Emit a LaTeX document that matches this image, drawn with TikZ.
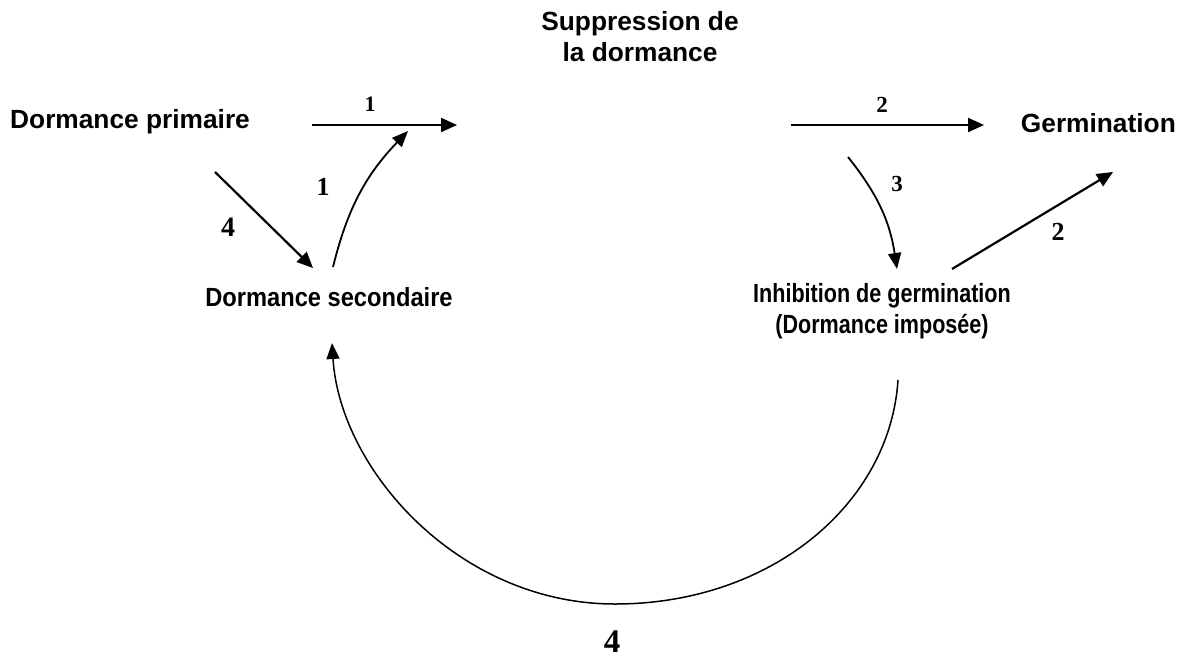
\documentclass[tikz,border=0pt]{standalone}
\usepackage{fontspec}
\setmainfont{Liberation Sans}
\newfontfamily\numfont{Liberation Serif}
\newfontfamily\condA{Liberation Sans}[FakeStretch=0.9]
\newfontfamily\condB{Liberation Sans}[FakeStretch=0.82]
\usetikzlibrary{arrows.meta}
\tikzset{
  lbl/.style={font=\fontsize{26.3}{31}\selectfont\bfseries, inner sep=0pt, anchor=base},
  num/.style={font=\numfont\bfseries\fontsize{#1}{#1}\selectfont, inner sep=0pt},
  num/.default=22,
  arr/.style={line width=2.2pt, -{Triangle[length=16pt,width=14pt]}},
  carr/.style={line width=1.8pt, -{Triangle[length=16pt,width=13pt]}},
}
\begin{document}
\begin{tikzpicture}[x=1pt,y=-1pt]
\useasboundingbox (0,0) rectangle (1182,661);
% text nodes
\node[lbl, anchor=base west] (prim) at (10,128) {Dormance primaire};
\node[lbl, align=center, anchor=north] (supp) at (640,11) {Suppression de\\la dormance};
\node[lbl, anchor=base east] (germ) at (1176,132) {Germination};
\node[lbl, font=\condA\fontsize{26.3}{31}\selectfont\bfseries] (sec) at (329,306) {Dormance secondaire};
\node[lbl, font=\condB\fontsize{26.3}{31}\selectfont\bfseries, align=center, anchor=north] (inhib) at (882,283) {Inhibition de germination\\(Dormance imposée)};
% connector ends
\coordinate (a1s) at (312,125); \coordinate (a1e) at (457,125);
\coordinate (b1s) at (333,267); \coordinate (b1e) at (408,131);
\coordinate (c4s) at (215,172); \coordinate (c4e) at (313,268);
\coordinate (d2s) at (791,125); \coordinate (d2e) at (984,125);
\coordinate (e3s) at (848,157); \coordinate (e3e) at (897,269);
\coordinate (f2s) at (952,269); \coordinate (f2e) at (1113,172);
\coordinate (g4s) at (898,380); \coordinate (g4m) at (615,604); \coordinate (g4e) at (332,343);
% connectors
\draw[arr] (a1s) -- (a1e);
\draw[carr] (b1s) to[bend left=15] (b1e);
\draw[arr] (c4s) -- (c4e);
\draw[arr] (d2s) -- (d2e);
\draw[carr] (e3s) to[bend left=15] (e3e);
\draw[arr] (f2s) -- (f2e);
\draw[carr, line width=1.5pt] (g4s) .. controls (890,504) and (771,604) .. (g4m)
      .. controls (459,604) and (340,470) .. (g4e);
% number labels
\node[num=22] (n1a) at (370,104) {1};
\node[num=26] (n1b) at (323,187) {1};
\node[num=28] (n4a) at (228,227) {4};
\node[num=23] (n2a) at (882,105) {2};
\node[num=23] (n3) at (897,184) {3};
\node[num=26] (n2b) at (1058,232) {2};
\node[num=33] (n4b) at (612,642) {4};
\end{tikzpicture}
\end{document}
